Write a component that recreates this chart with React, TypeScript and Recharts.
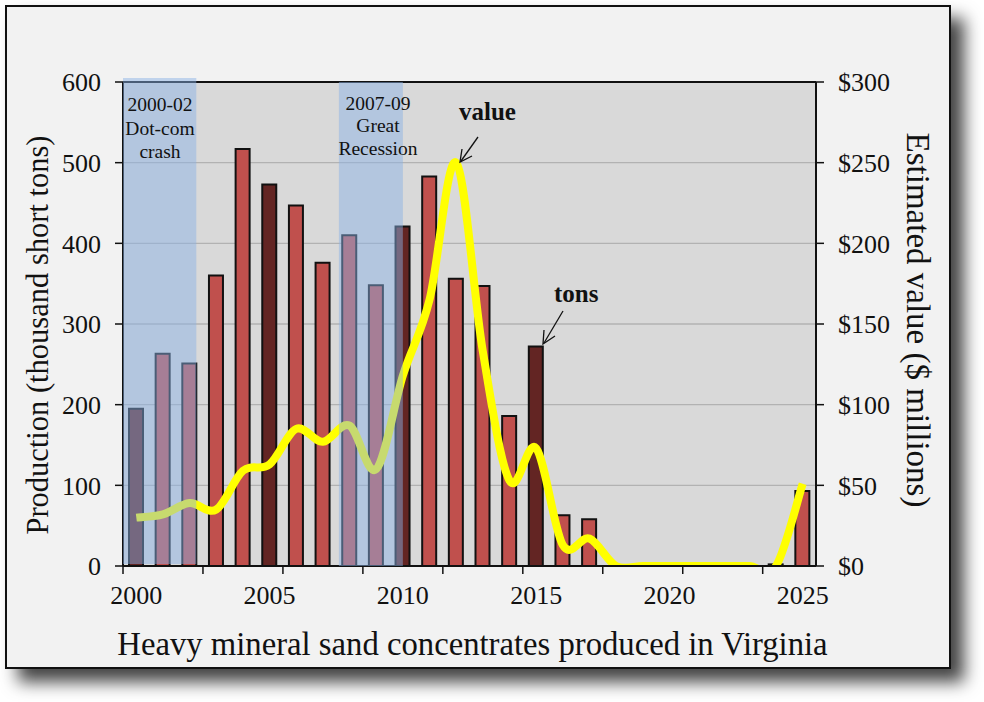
import React from "react";
import {
  ComposedChart,
  Bar,
  Line,
  Cell,
  XAxis,
  YAxis,
  CartesianGrid,
  ReferenceArea,
  ReferenceLine,
  Label,
} from "recharts";

const YEARS = [
  2000, 2001, 2002, 2003, 2004, 2005, 2006, 2007, 2008, 2009, 2010, 2011, 2012,
  2013, 2014, 2015, 2016, 2017, 2018, 2019, 2020, 2021, 2022, 2023, 2024, 2025,
];
const TONS = [
  195, 263, 251, 360, 517, 473, 447, 376, 410, 348, 421, 483, 356, 347, 186, 272,
  63, 58, 0, 0, 0, 0, 0, 0, 2, 93,
];
const VALUE = [
  30, 32, 39, 35, 59, 63, 85, 77, 87, 60, 118, 165, 250, 133, 53, 73, 13, 17, 0,
  0, 0, 0, 0, 0, 0, 51,
];
const DARK_YEARS = [2000, 2005, 2010, 2015];
const TON_TICKS = [0, 100, 200, 300, 400, 500, 600];
const VALUE_TICKS = [0, 50, 100, 150, 200, 250, 300];
const MARK_TICKS = [0, 3, 6, 9, 12, 15, 18, 21, 24];

// slot is the year counted from the left edge of the axis, used by the tick marks and shaded bands
const data = YEARS.map((year, i) => ({ year, slot: i, tons: TONS[i], value: VALUE[i] }));

const SERIF = '"Liberation Serif", serif';
const BAND = "rgba(137, 177, 229, 0.48)";

// Excel style smoothed line, it overshoots a bit around the sharp turns
function excelCurve(ctx: any) {
  let pts: [number, number][] = [];
  return {
    areaStart() {},
    areaEnd() {},
    lineStart() {
      pts = [];
    },
    point(x: number, y: number) {
      pts.push([+x, +y]);
    },
    lineEnd() {
      pts.forEach((p, i) => {
        if (i === 0) {
          ctx.moveTo(p[0], p[1]);
          return;
        }
        const p0 = pts[i - 2] || pts[i - 1];
        const p1 = pts[i - 1];
        const p2 = pts[i + 1] || p;
        ctx.bezierCurveTo(
          p1[0] + (p[0] - p0[0]) / 6,
          p1[1] + (p[1] - p0[1]) / 6,
          p[0] - (p2[0] - p1[0]) / 6,
          p[1] - (p2[1] - p1[1]) / 6,
          p[0],
          p[1]
        );
      });
    },
  };
}

function Notes() {
  const bandText = { fontSize: 19.5, textAnchor: "middle" as const, fill: "#111" };
  const noteText = { fontSize: 25, fontWeight: 700, fill: "#111" };
  return (
    <svg
      width={984}
      height={702}
      style={{ position: "absolute", left: 0, top: 0, fontFamily: SERIF, pointerEvents: "none" }}
    >
      <text x={160} y={111} {...bandText}>2000-02</text>
      <text x={160} y={135} {...bandText}>Dot-com</text>
      <text x={160} y={158} {...bandText}>crash</text>
      <text x={378} y={110} {...bandText}>2007-09</text>
      <text x={378} y={132} {...bandText}>Great</text>
      <text x={378} y={155} {...bandText}>Recession</text>
      <text x={459} y={120} {...noteText}>value</text>
      <text x={554} y={302} {...noteText}>tons</text>
      <g stroke="#111" strokeWidth={1.3} fill="none">
        <path d="M478 137 L461 161" />
        <path d="M462 149 L460 162 L472 156" />
        <path d="M563 311 L544 343" />
        <path d="M544 330 L543 344 L555 336" />
      </g>
    </svg>
  );
}

export default function App() {
  return (
    <div style={{ position: "absolute", left: 0, top: 0, width: 984, height: 702, background: "#fff" }}>
      <div
        style={{
          position: "absolute",
          left: 5,
          top: 5,
          width: 946,
          height: 664,
          boxSizing: "border-box",
          border: "2px solid #111",
          background: "#f2f2f2",
          boxShadow: "13px 13px 16px #444",
        }}
      />
      <div style={{ position: "absolute", left: 0, top: 0 }}>
        <ComposedChart
          width={984}
          height={702}
          data={data}
          barSize={14}
          margin={{ top: 82, right: 88, bottom: 75, left: 43 }}
          style={{ fontFamily: SERIF }}
        >
          <CartesianGrid
            yAxisId="tons"
            horizontal
            vertical={false}
            fill="#d9d9d9"
            stroke="#b2b2b2"
            strokeWidth={1.3}
          />
          <XAxis
            xAxisId="span"
            dataKey="slot"
            type="number"
            domain={[0, 26]}
            ticks={MARK_TICKS}
            height={1}
            axisLine={{ stroke: "#111", strokeWidth: 2 }}
            tick={() => <g />}
            tickLine={{ stroke: "#111", strokeWidth: 1.5 }}
            tickSize={8}
            allowDataOverflow
          />
          <XAxis
            xAxisId="year"
            dataKey="year"
            height={60}
            interval={4}
            tickLine={false}
            axisLine={false}
            tick={{ fontSize: 26, fill: "#111" }}
            tickMargin={13}
          >
            <Label
              value="Heavy mineral sand concentrates produced in Virginia"
              position="insideBottom"
              offset={-28}
              dx={3}
              style={{ fontSize: 32.7, fill: "#111", fontFamily: SERIF }}
            />
          </XAxis>
          <YAxis
            yAxisId="tons"
            domain={[0, 600]}
            ticks={TON_TICKS}
            width={80}
            axisLine={{ stroke: "#111", strokeWidth: 2 }}
            tickLine={{ stroke: "#111", strokeWidth: 1.5 }}
            tickSize={8}
            tickMargin={14}
            tick={{ fontSize: 26, fill: "#111" }}
            allowDataOverflow
          >
            <Label
              value="Production (thousand short tons)"
              angle={-90}
              position="insideLeft"
              offset={-6}
              dy={11}
              style={{ fontSize: 30.5, fill: "#111", fontFamily: SERIF, textAnchor: "middle" }}
            />
          </YAxis>
          <YAxis
            yAxisId="value"
            orientation="right"
            domain={[0, 300]}
            ticks={VALUE_TICKS}
            width={80}
            tickFormatter={(v: number) => "$" + v}
            axisLine={{ stroke: "#111", strokeWidth: 2 }}
            tickLine={{ stroke: "#111", strokeWidth: 1.5 }}
            tickSize={8}
            tickMargin={14}
            tick={{ fontSize: 26, fill: "#111" }}
            allowDataOverflow
          >
            <Label
              value="Estimated value ($ millions)"
              angle={90}
              position="insideRight"
              offset={-23}
              dy={-4}
              style={{ fontSize: 33, fill: "#111", fontFamily: SERIF, textAnchor: "middle" }}
            />
          </YAxis>
          <ReferenceLine xAxisId="span" yAxisId="tons" y={600} stroke="#111" strokeWidth={2} />
          <Bar
            xAxisId="year"
            yAxisId="tons"
            dataKey="tons"
            stroke="#111"
            strokeWidth={2}
            isAnimationActive={false}
          >
            {YEARS.map((y) => (
              <Cell key={y} fill={DARK_YEARS.includes(y) ? "#632523" : "#c0504d"} />
            ))}
          </Bar>
          <Line
            xAxisId="year"
            yAxisId="value"
            dataKey="value"
            type={excelCurve as any}
            stroke="#ffff00"
            strokeWidth={8}
            dot={false}
            activeDot={false}
            isAnimationActive={false}
          />
          <ReferenceArea
            xAxisId="span"
            yAxisId="tons"
            x1={0}
            x2={2.75}
            y1={2.5}
            y2={605}
            fill={BAND}
            fillOpacity={1}
            stroke="none"
            ifOverflow="visible"
            zIndex={500}
          />
          <ReferenceArea
            xAxisId="span"
            yAxisId="tons"
            x1={8.1}
            x2={10.5}
            y1={0}
            y2={600}
            fill={BAND}
            fillOpacity={1}
            stroke="none"
            ifOverflow="visible"
            zIndex={500}
          />
        </ComposedChart>
      </div>
      <Notes />
    </div>
  );
}
